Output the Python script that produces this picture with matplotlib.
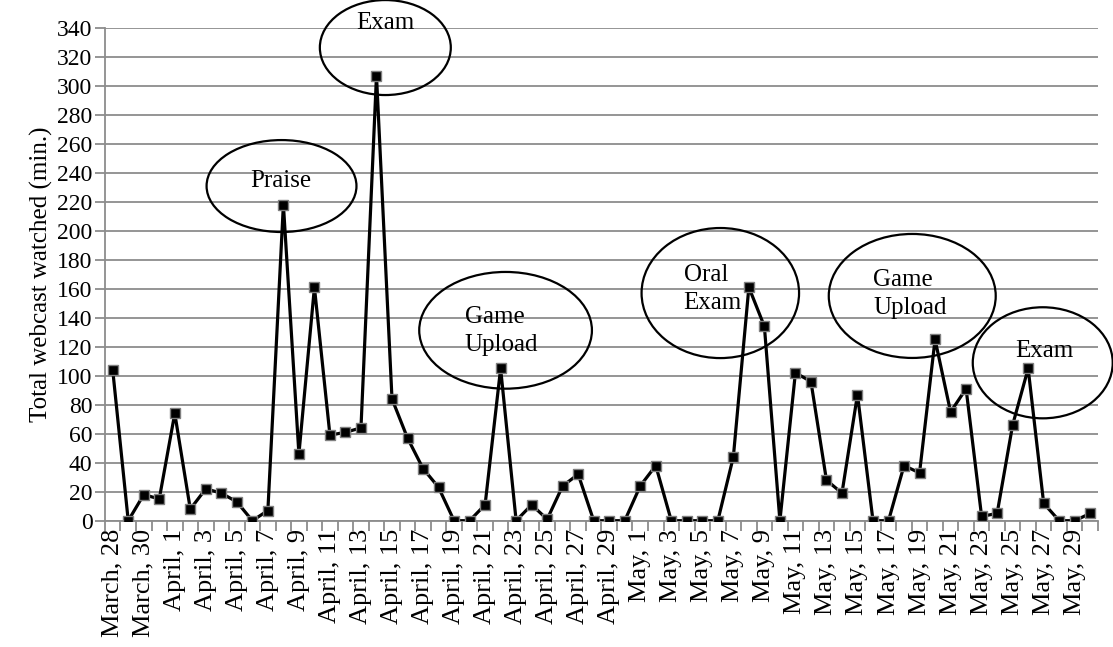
import matplotlib
matplotlib.use("Agg")
import matplotlib.pyplot as plt
from matplotlib.patches import Ellipse

plt.rcParams['font.family'] = ['Liberation Serif', 'DejaVu Serif']

# days: March 28 .. May 30
months = ["March"] * 4 + ["April"] * 30 + ["May"] * 30
days = list(range(28, 32)) + list(range(1, 31)) + list(range(1, 31))
day_labels = [f"{m}, {d}" for m, d in zip(months, days)]

minutes = [104, 0, 18, 15, 74, 8, 22, 19, 13, 0, 7, 218, 46, 161, 59, 61,
           64, 307, 84, 57, 36, 23, 0, 0, 11, 105, 0, 11, 1, 24, 32, 0,
           0, 0, 24, 38, 0, 0, 0, 0, 44, 161, 134, 0, 102, 96, 28, 19,
           87, 0, 0, 38, 33, 125, 75, 91, 3, 5, 66, 105, 12, 0, 0, 5]

# annotation callouts: text, label x, label y, alignment, ellipse centre/size
notes = [
    ("Praise", 10.85, 234, "center", 10.88, 230.8, 9.66, 63.4),
    ("Exam", 17.55, 343, "center", 17.57, 326.3, 8.44, 65.5),
    ("Game\nUpload", 22.7, 130.8, "left", 25.32, 131.3, 11.13, 80.5),
    ("Oral\nExam", 36.8, 160, "left", 39.16, 157.0, 10.15, 89.7),
    ("Game\nUpload", 49.0, 156.5, "left", 51.53, 155.0, 10.76, 85.5),
    ("Exam", 60.06, 117, "center", 59.94, 108.9, 9.02, 76.6),
]

fig = plt.figure(figsize=(11.13, 6.47), dpi=100)
ax = fig.add_axes([0.0943, 0.1952, 0.8922, 0.762])

x = list(range(len(minutes)))
ax.plot(x, minutes, color="black", lw=2.3, marker="s", ms=7.5,
        markerfacecolor="black", markeredgecolor="#7f7f7f", mew=1.0, zorder=3)

ax.set_xlim(-0.5, len(minutes) - 0.5)
ax.set_ylim(0, 340)
ax.set_yticks(range(0, 341, 20))
ax.yaxis.grid(True, color="#8c8c8c", lw=1.3)
ax.set_axisbelow(True)

ax.set_xticks(x[::2])
ax.set_xticklabels(day_labels[::2], rotation=90, fontsize=19)
ax.set_xticks([i - 0.5 for i in range(len(minutes) + 1)], minor=True)
ax.tick_params(axis="x", which="major", length=0, pad=6)
ax.tick_params(axis="x", which="minor", length=7, color="#8c8c8c", width=1.3)
ax.tick_params(axis="y", length=7, color="#8c8c8c", width=1.3, labelsize=17, pad=2)

for s in ["top", "right"]:
    ax.spines[s].set_visible(False)
for s in ["left", "bottom"]:
    ax.spines[s].set_color("#8c8c8c")
    ax.spines[s].set_linewidth(1.3)

ax.set_ylabel("Total webcast watched (min.)", fontsize=18, labelpad=3)

for txt, tx, ty, ha, ex, ey, ew, eh in notes:
    ax.add_patch(Ellipse((ex, ey), ew, eh, fill=False, edgecolor="black",
                         lw=1.6, clip_on=False, zorder=4))
    ax.text(tx, ty, txt, ha=ha, va="center", fontsize=18, zorder=5,
            linespacing=1.35)

fig.savefig("out.png", dpi=100)
